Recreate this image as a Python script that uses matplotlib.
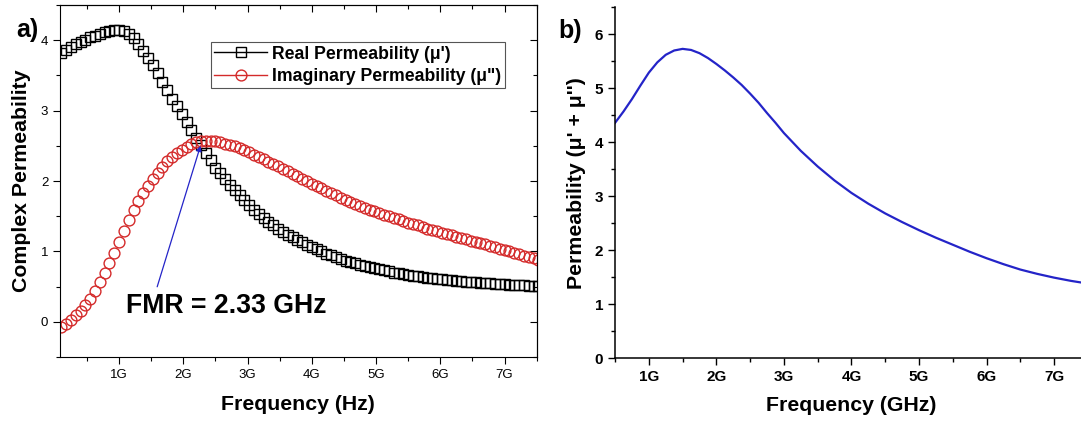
import numpy as np
import matplotlib
matplotlib.use('Agg')
import matplotlib.pyplot as plt
from matplotlib.lines import Line2D
from matplotlib.ticker import MultipleLocator

plt.rcParams['font.family'] = ['Liberation Sans', 'DejaVu Sans']

freq_ghz = [
    0.100, 0.175, 0.250, 0.325, 0.400, 0.475, 0.550, 0.625, 0.700, 0.775,
    0.850, 0.925, 1.000, 1.075, 1.150, 1.225, 1.300, 1.375, 1.450, 1.525,
    1.600, 1.675, 1.750, 1.825, 1.900, 1.975, 2.050, 2.125, 2.200, 2.275,
    2.350, 2.425, 2.500, 2.575, 2.650, 2.725, 2.800, 2.875, 2.950, 3.025,
    3.100, 3.175, 3.250, 3.325, 3.400, 3.475, 3.550, 3.625, 3.700, 3.775,
    3.850, 3.925, 4.000, 4.075, 4.150, 4.225, 4.300, 4.375, 4.450, 4.525,
    4.600, 4.675, 4.750, 4.825, 4.900, 4.975, 5.050, 5.125, 5.200, 5.275,
    5.350, 5.425, 5.500, 5.575, 5.650, 5.725, 5.800, 5.875, 5.950, 6.025,
    6.100, 6.175, 6.250, 6.325, 6.400, 6.475, 6.550, 6.625, 6.700, 6.775,
    6.850, 6.925, 7.000, 7.075, 7.150, 7.225, 7.300, 7.375, 7.450, 7.525,
]
mu_real = [
    3.82, 3.865, 3.905, 3.94, 3.98, 4.01, 4.04, 4.065, 4.09, 4.115,
    4.13, 4.145, 4.15, 4.13, 4.095, 4.03, 3.94, 3.85, 3.75, 3.645,
    3.53, 3.41, 3.29, 3.17, 3.06, 2.95, 2.835, 2.72, 2.61, 2.505,
    2.40, 2.295, 2.19, 2.11, 2.03, 1.95, 1.87, 1.80, 1.73, 1.66,
    1.595, 1.53, 1.47, 1.42, 1.375, 1.325, 1.28, 1.24, 1.20, 1.16,
    1.13, 1.09, 1.06, 1.03, 1.00, 0.97, 0.945, 0.92, 0.895, 0.87,
    0.85, 0.83, 0.81, 0.79, 0.775, 0.76, 0.745, 0.73, 0.715, 0.70,
    0.69, 0.68, 0.665, 0.655, 0.645, 0.637, 0.628, 0.62, 0.612, 0.603,
    0.596, 0.59, 0.584, 0.578, 0.572, 0.566, 0.561, 0.556, 0.551, 0.546,
    0.541, 0.537, 0.533, 0.529, 0.525, 0.521, 0.518, 0.515, 0.512, 0.51,
]
mu_imag = [
    -0.07, -0.025, 0.03, 0.09, 0.16, 0.24, 0.33, 0.44, 0.56, 0.695,
    0.835, 0.98, 1.13, 1.29, 1.445, 1.595, 1.72, 1.835, 1.935, 2.03,
    2.12, 2.205, 2.28, 2.34, 2.40, 2.445, 2.485, 2.52, 2.55, 2.565,
    2.573, 2.575, 2.565, 2.548, 2.53, 2.515, 2.495, 2.465, 2.44, 2.41,
    2.375, 2.345, 2.31, 2.275, 2.245, 2.21, 2.175, 2.14, 2.105, 2.07,
    2.03, 1.995, 1.96, 1.925, 1.895, 1.86, 1.83, 1.795, 1.76, 1.73,
    1.70, 1.675, 1.65, 1.62, 1.595, 1.57, 1.545, 1.52, 1.50, 1.475,
    1.455, 1.43, 1.41, 1.39, 1.37, 1.35, 1.325, 1.305, 1.285, 1.265,
    1.245, 1.23, 1.21, 1.19, 1.175, 1.155, 1.14, 1.12, 1.10, 1.08,
    1.06, 1.04, 1.02, 1.00, 0.98, 0.96, 0.94, 0.92, 0.90, 0.88,
]

# ---- panel b: mu' + mu'' ----
freq_b = [0.5, 0.625, 0.75, 0.875, 1.0, 1.125, 1.25, 1.375, 1.5, 1.625,
          1.75, 1.875, 2.0, 2.125, 2.25, 2.375, 2.5, 2.625, 2.75, 2.875,
          3.0, 3.25, 3.5, 3.75, 4.0, 4.25, 4.5, 4.75, 5.0, 5.25,
          5.5, 5.75, 6.0, 6.25, 6.5, 6.75, 7.0, 7.25, 7.5]
mu_sum = [4.36, 4.57, 4.80, 5.05, 5.29, 5.48, 5.62, 5.70, 5.73, 5.71,
          5.65, 5.56, 5.45, 5.33, 5.20, 5.06, 4.90, 4.73, 4.54, 4.36,
          4.17, 3.84, 3.55, 3.29, 3.06, 2.86, 2.68, 2.52, 2.37, 2.23,
          2.10, 1.97, 1.85, 1.74, 1.64, 1.56, 1.49, 1.43, 1.38]

xtick_vals = [1, 2, 3, 4, 5, 6, 7]
xtick_labels = ['1G', '2G', '3G', '4G', '5G', '6G', '7G']
legend_labels = ["Real Permeability (\u03bc')", 'Imaginary Permeability (\u03bc")']

fmr_freq, fmr_val = 2.28, 2.54

red = '#d42a2a'
blue = '#2424c8'

fig = plt.figure(figsize=(10.81, 4.21), dpi=100)

# panel a
ax1 = fig.add_axes([0.0555, 0.152, 0.441, 0.836])
ax1.plot(freq_ghz, mu_real, linestyle='none', marker='s', ms=7, mfc='none',
         mec='black', mew=1.0)
ax1.plot(freq_ghz, mu_imag, linestyle='none', marker='o', ms=7.8, mfc='none',
         mec=red, mew=1.0)
ax1.set_xlim(0.08, 7.5)
ax1.set_ylim(-0.5, 4.5)
ax1.set_xticks(xtick_vals)
ax1.set_xticklabels(xtick_labels)
ax1.xaxis.set_minor_locator(MultipleLocator(0.5))
ax1.set_yticks([0, 1, 2, 3, 4])
ax1.yaxis.set_minor_locator(MultipleLocator(0.5))
ax1.tick_params(which='major', direction='out', length=5, width=0.8, labelsize=9.5)
ax1.tick_params(which='minor', direction='out', length=3, width=0.8)
for s in ax1.spines.values():
    s.set_linewidth(0.8)

# mirrored ticks on top / right, pointing inwards
top = ax1.secondary_xaxis('top')
top.set_xticks(xtick_vals)
top.xaxis.set_minor_locator(MultipleLocator(0.5))
top.tick_params(which='both', direction='in', labeltop=False, width=0.8)
top.tick_params(which='major', length=5)
top.tick_params(which='minor', length=3)
right = ax1.secondary_yaxis('right')
right.set_yticks([0, 1, 2, 3, 4])
right.yaxis.set_minor_locator(MultipleLocator(0.5))
right.tick_params(which='both', direction='in', labelright=False, width=0.8)
right.tick_params(which='major', length=5)
right.tick_params(which='minor', length=3)

ax1.set_xlabel('Frequency (Hz)', fontsize=15.3, fontweight='bold', labelpad=10)
ax1.set_ylabel('Complex Permeability', fontsize=15.3, fontweight='bold', labelpad=7)

handles = [
    Line2D([], [], color='black', lw=1, marker='s', ms=7, mfc='none', mec='black'),
    Line2D([], [], color=red, lw=1, marker='o', ms=7.8, mfc='none', mec=red),
]
leg = ax1.legend(handles, legend_labels,
                 loc='upper right', bbox_to_anchor=(0.9335, 0.895), borderaxespad=0,
                 fancybox=False, edgecolor='#555555', framealpha=1,
                 prop={'weight': 'bold', 'size': 12.7}, handlelength=3.0,
                 handletextpad=0.3, borderpad=0.2, labelspacing=0.3)
leg.get_frame().set_linewidth(0.8)

ax1.annotate('', xy=(fmr_freq, fmr_val), xytext=(1.58, 0.46),
             arrowprops=dict(arrowstyle='-|>', color=blue, lw=0.9, mutation_scale=8))
ax1.text(1.11, 0.13, 'FMR = 2.33 GHz', fontsize=19.2, fontweight='bold',
         ha='left', va='baseline')

fig.text(16.7 / 1081, 1 - 37 / 421, 'a)', fontsize=18, fontweight='bold',
         ha='left', va='baseline')

# panel b
ax2 = fig.add_axes([0.569, 0.1496, 0.4373, 0.833])
ax2.plot(freq_b, mu_sum, color=blue, lw=1.6)
ax2.set_xlim(0.5, 7.5)
ax2.set_ylim(0, 6.5)
ax2.set_xticks(xtick_vals)
ax2.set_xticklabels(xtick_labels)
ax2.xaxis.set_minor_locator(MultipleLocator(0.5))
ax2.set_yticks([0, 1, 2, 3, 4, 5, 6])
ax2.yaxis.set_minor_locator(MultipleLocator(0.5))
ax2.spines['top'].set_visible(False)
ax2.spines['right'].set_visible(False)
for s in ('left', 'bottom'):
    ax2.spines[s].set_linewidth(1.1)
ax2.tick_params(which='major', direction='out', length=5, width=1.0, labelsize=11)
ax2.tick_params(which='minor', direction='out', length=3, width=1.0)
for lab in ax2.get_xticklabels() + ax2.get_yticklabels():
    lab.set_fontweight('bold')
ax2.set_xlabel('Frequency (GHz)', fontsize=15.3, fontweight='bold', labelpad=9)
ax2.set_ylabel("Permeability (\u03bc' + \u03bc'')", fontsize=15.3, fontweight='bold', labelpad=6)

fig.text(558 / 1081, 1 - 38 / 421, 'b)', fontsize=18, fontweight='bold',
         ha='left', va='baseline')

fig.savefig('out.png', dpi=100)
